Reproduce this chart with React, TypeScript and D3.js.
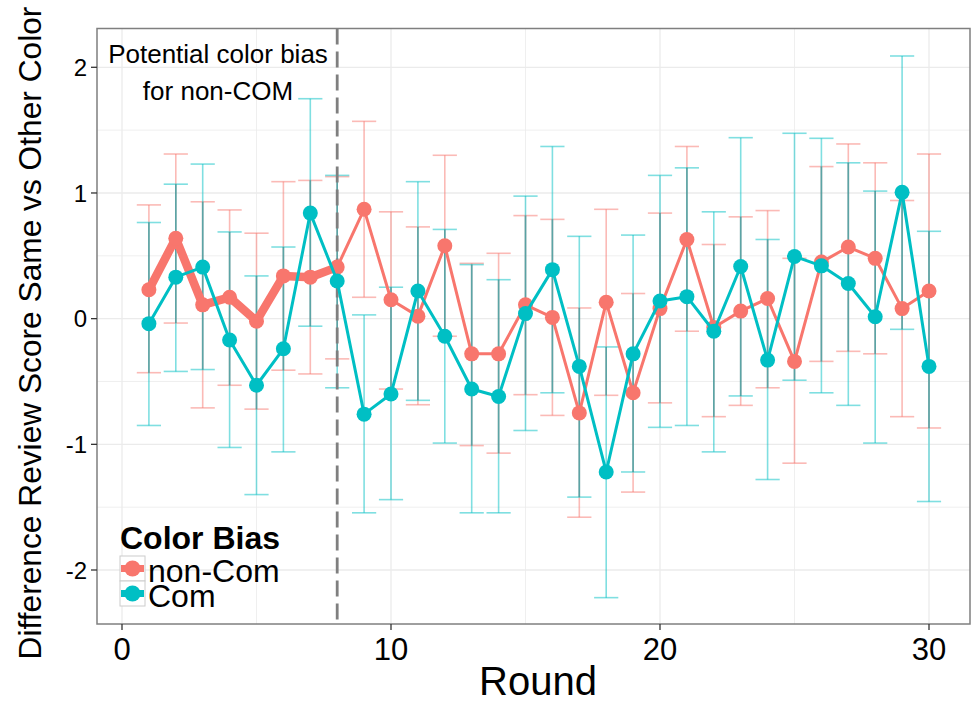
import React from "react";
import * as d3 from "d3";

const rounds = [1,2,3,4,5,6,7,8,9,10,11,12,13,14,15,16,17,18,19,20,21,22,23,24,25,26,27,28,29,30];

const nonComMean = [0.23,0.64,0.11,0.17,-0.02,0.34,0.33,0.41,0.87,0.15,0.02,0.58,-0.28,-0.28,0.11,0.01,-0.75,0.13,-0.59,0.08,0.63,-0.07,0.06,0.16,-0.34,0.45,0.57,0.48,0.08,0.22];
const nonComUpper = [0.905,1.31,0.93,0.865,0.68,1.09,1.10,1.13,1.57,0.85,0.73,1.30,0.44,0.52,0.82,0.79,0.085,0.87,0.20,0.84,1.37,0.59,0.81,0.86,0.48,1.21,1.39,1.24,0.94,1.31];
const nonComLower = [-0.43,-0.035,-0.71,-0.53,-0.72,-0.41,-0.44,-0.32,0.17,-0.56,-0.685,-0.14,-1.01,-1.07,-0.605,-0.77,-1.58,-0.61,-1.38,-0.67,-0.10,-0.78,-0.69,-0.55,-1.15,-0.34,-0.26,-0.28,-0.78,-0.87];

const comMean = [-0.04,0.33,0.41,-0.17,-0.53,-0.24,0.84,0.30,-0.76,-0.60,0.22,-0.14,-0.56,-0.62,0.04,0.39,-0.38,-1.22,-0.28,0.14,0.175,-0.10,0.415,-0.33,0.495,0.42,0.28,0.015,1.005,-0.38];
const comUpper = [0.765,1.07,1.23,0.69,0.34,0.57,1.75,1.14,0.03,0.25,1.09,0.71,0.43,0.31,0.975,1.37,0.655,-0.225,0.665,1.14,1.20,0.85,1.44,0.63,1.475,1.435,1.24,1.015,2.09,0.695];
const comLower = [-0.85,-0.42,-0.405,-1.025,-1.40,-1.06,-0.06,-0.55,-1.545,-1.44,-0.65,-0.99,-1.545,-1.545,-0.89,-0.59,-1.42,-2.22,-1.22,-0.865,-0.85,-1.06,-0.615,-1.28,-0.49,-0.59,-0.69,-0.99,-0.085,-1.455];

const xTicks = [0, 10, 20, 30];
const xMinor = [5, 15, 25];
const yTicks = [-2, -1, 0, 1, 2];
const yMinor = [-1.5, -0.5, 0.5, 1.5];
const biasRound = 8;

const RED = "#F8766D";
const CYAN = "#00BFC4";
const FONT = "'Liberation Sans', Arial, Helvetica, sans-serif";

export default function App() {
  const left = 97, right = 970, top = 28.5, bottom = 624;
  const x = d3.scaleLinear().domain([0, 30]).range([122, 929]);
  const y = d3.scaleLinear().domain([-2, 2]).range([570, 67.3]);
  const capHalf = (x(0.45) - x(0));

  const line = d3.line<[number, number]>().x(d => x(d[0])).y(d => y(d[1]));

  const ncPts: [number, number][] = rounds.map((r, i) => [r, nonComMean[i]]);
  const cPts: [number, number][] = rounds.map((r, i) => [r, comMean[i]]);
  const idx8 = rounds.indexOf(biasRound);
  const ncThick = ncPts.slice(0, idx8 + 1);
  const ncThin = ncPts.slice(idx8);

  const errBar = (r: number, lo: number, hi: number, color: string, key: string) => (
    <g key={key} stroke={color} strokeOpacity={0.5} strokeWidth={1.6} fill="none">
      <line x1={x(r) - capHalf} x2={x(r) + capHalf} y1={y(hi)} y2={y(hi)} />
      <line x1={x(r)} x2={x(r)} y1={y(hi)} y2={y(lo)} />
      <line x1={x(r) - capHalf} x2={x(r) + capHalf} y1={y(lo)} y2={y(lo)} />
    </g>
  );

  return (
    <svg width={972} height={702} style={{ position: "absolute", left: 0, top: 0, background: "#fff" }} fontFamily={FONT}>
      <rect x={0} y={0} width={972} height={702} fill="#fff" />
      {/* grid */}
      <g stroke="#ebebeb" strokeWidth={1}>
        {yMinor.map(v => <line key={"ym" + v} x1={left} x2={right} y1={y(v)} y2={y(v)} strokeWidth={0.8} />)}
        {xMinor.map(v => <line key={"xm" + v} y1={top} y2={bottom} x1={x(v)} x2={x(v)} strokeWidth={0.8} />)}
        {yTicks.map(v => <line key={"y" + v} x1={left} x2={right} y1={y(v)} y2={y(v)} strokeWidth={1.3} />)}
        {xTicks.map(v => <line key={"x" + v} y1={top} y2={bottom} x1={x(v)} x2={x(v)} strokeWidth={1.3} />)}
      </g>
      {/* error bars */}
      {rounds.map((r, i) => errBar(r, nonComLower[i], nonComUpper[i], RED, "ne" + r))}
      {rounds.map((r, i) => errBar(r, comLower[i], comUpper[i], CYAN, "ce" + r))}
      {rounds.map((r, i) => {
        const lo = Math.max(nonComLower[i], comLower[i]);
        const hi = Math.min(nonComUpper[i], comUpper[i]);
        return hi > lo ? (
          <line key={"ov" + r} x1={x(r)} x2={x(r)} y1={y(hi)} y2={y(lo)} stroke="#3f8f91" strokeOpacity={0.55} strokeWidth={1.6} />
        ) : null;
      })}
      {/* dashed vline */}
      <line x1={x(biasRound)} x2={x(biasRound)} y1={top} y2={bottom} stroke="#7f7f7f" strokeWidth={2.8} strokeDasharray="16 7" />
      {/* lines */}
      <path d={line(ncThick) || ""} fill="none" stroke={RED} strokeWidth={8.5} strokeLinejoin="round" strokeLinecap="round" />
      <path d={line(ncThin) || ""} fill="none" stroke={RED} strokeWidth={3} strokeLinejoin="round" />
      {ncPts.map(p => <circle key={"np" + p[0]} cx={x(p[0])} cy={y(p[1])} r={7.5} fill={RED} />)}
      <path d={line(cPts) || ""} fill="none" stroke={CYAN} strokeWidth={3} strokeLinejoin="round" />
      {cPts.map(p => <circle key={"cp" + p[0]} cx={x(p[0])} cy={y(p[1])} r={7.5} fill={CYAN} />)}
      {/* panel border */}
      <rect x={left} y={top} width={right - left} height={bottom - top} fill="none" stroke="#7f7f7f" strokeWidth={1.5} />
      {/* axes ticks */}
      <g stroke="#333" strokeWidth={1.3}>
        {yTicks.map(v => <line key={"yt" + v} x1={left - 6} x2={left} y1={y(v)} y2={y(v)} />)}
        {xTicks.map(v => <line key={"xt" + v} x1={x(v)} x2={x(v)} y1={bottom} y2={bottom + 6} />)}
      </g>
      <g fontSize={24} textAnchor="end" fill="#000">
        {yTicks.map(v => <text key={"yl" + v} x={left - 10} y={y(v)} dy="0.36em">{v}</text>)}
      </g>
      <g fontSize={31} textAnchor="middle" fill="#000">
        {xTicks.map(v => <text key={"xl" + v} x={x(v)} y={660}>{v}</text>)}
      </g>
      <text x={538} y={695} fontSize={40} textAnchor="middle">Round</text>
      <text transform={`translate(41,333) rotate(-90)`} fontSize={31.7} textAnchor="middle">Difference Review Score Same vs Other Color</text>
      {/* annotation */}
      <g fontSize={26} textAnchor="middle">
        <text x={218} y={63}>Potential color bias</text>
        <text x={218} y={100}>for non-COM</text>
      </g>
      {/* legend */}
      <text x={120} y={549} fontSize={32} fontWeight="bold">Color Bias</text>
      {[{ label: "non-Com", color: RED, w: 7 }, { label: "Com", color: CYAN, w: 7 }].map((d, i) => {
        const ky = 556 + i * 25;
        return (
          <g key={d.label}>
            <rect x={120} y={ky} width={25} height={25} fill="#fff" stroke="#cccccc" strokeWidth={1} />
            <line x1={121} x2={144} y1={ky + 12.5} y2={ky + 12.5} stroke={d.color} strokeWidth={d.w} />
            <circle cx={132.5} cy={ky + 12.5} r={8} fill={d.color} />
            <text x={148} y={ky + 26} fontSize={32}>{d.label}</text>
          </g>
        );
      })}
    </svg>
  );
}
